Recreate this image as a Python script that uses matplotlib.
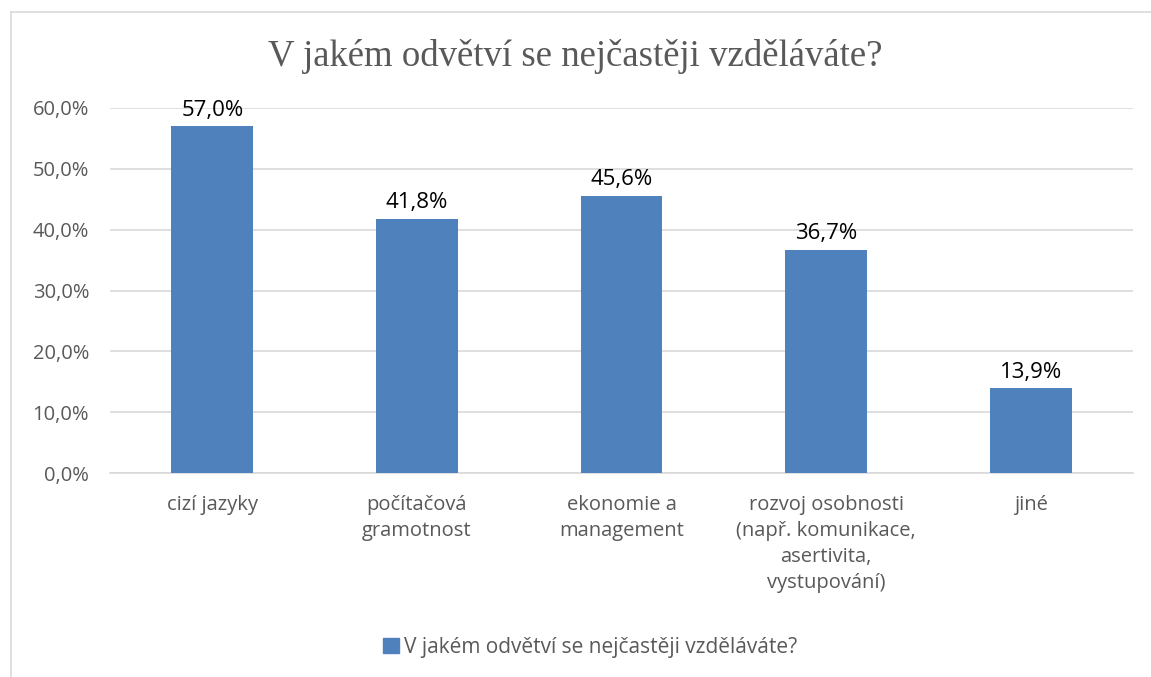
import matplotlib
matplotlib.use("Agg")
import matplotlib.pyplot as plt
from matplotlib.patches import Rectangle
from matplotlib.lines import Line2D

categories = ["cizí jazyky", "počítačová\ngramotnost", "ekonomie a\nmanagement",
              "rozvoj osobnosti\n(např. komunikace,\nasertivita,\nvystupování)", "jiné"]
values = [57.0, 41.8, 45.6, 36.7, 13.9]
yticks = [0, 10, 20, 30, 40, 50, 60]
title = "V jakém odvětví se nejčastěji vzděláváte?"

BAR = "#4F81BD"
GRID = "#D9D9D9"
TXT = "#595959"
SANS = ["Open Sans", "DejaVu Sans"]

fig = plt.figure(figsize=(11.51, 6.77), dpi=100)
ax = fig.add_axes([110/1151, 1-473/677, (1133-110)/1151, (473-108)/677])

x = list(range(len(categories)))
bars = ax.bar(x, values, width=0.4, color=BAR, zorder=3)
ax.set_xlim(-0.5, len(categories)-0.5)
ax.set_ylim(0, 60)
ax.set_yticks(yticks)
ax.set_yticklabels([f"{v:.1f}%".replace(".", ",") for v in yticks], fontsize=14.5, color=TXT, family=SANS)
ax.set_xticks(x)
ax.set_xticklabels(categories, fontsize=14.5, color=TXT, family=SANS, linespacing=1.4, va="top")
ax.tick_params(axis="both", length=0)
ax.tick_params(axis="y", pad=15)
ax.tick_params(axis="x", pad=16)
ax.grid(axis="y", color=GRID, linewidth=1.2, zorder=0)
for s in ["top", "right", "left"]:
    ax.spines[s].set_visible(False)
ax.spines["bottom"].set_color(GRID)
ax.spines["bottom"].set_linewidth(1.2)

for xi, v in zip(x, values):
    ax.annotate(f"{v:.1f}%".replace(".", ","), (xi, v), xytext=(0, 4), textcoords="offset points",
                ha="center", va="bottom", fontsize=16, color="black", family=SANS)

fig.text(0.5, 1-57/677, title, ha="center", va="center", fontsize=26.5, color=TXT,
         family=["Liberation Serif", "DejaVu Serif"])

# chart border (top and left)
fig.add_artist(Line2D([11/1151, 1.0], [1-12/677, 1-12/677], color="#D9D9D9", linewidth=1.2, transform=fig.transFigure))
fig.add_artist(Line2D([11/1151, 11/1151], [1-12/677, 0.0], color="#D9D9D9", linewidth=1.2, transform=fig.transFigure))

handle = Rectangle((0, 0), 1, 1, color=BAR)
leg = fig.legend([handle], [title], loc="center", bbox_to_anchor=(590/1151, 1-647/677),
                 frameon=False, handlelength=0.75, handleheight=0.75, handletextpad=0.25,
                 prop={"family": SANS, "size": 15})
for t in leg.get_texts():
    t.set_color(TXT)

fig.savefig("out.png", dpi=100, facecolor="white")
